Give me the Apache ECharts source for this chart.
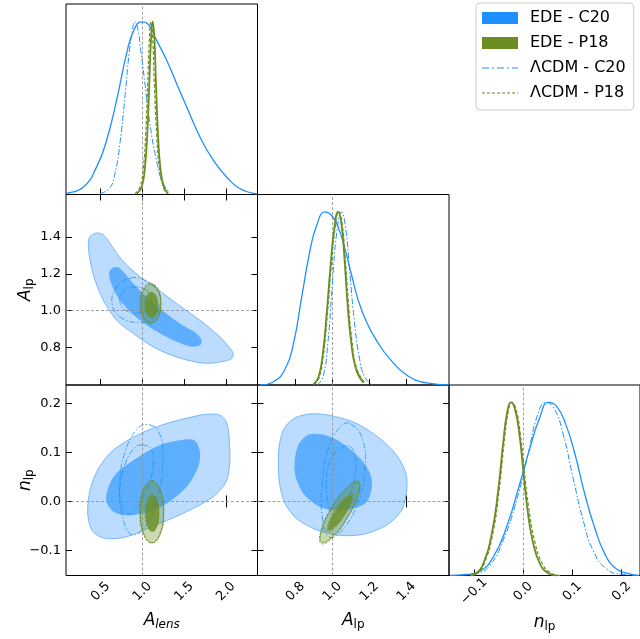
<!DOCTYPE html>
<html>
<head>
<meta charset="utf-8">
<script src="https://cdn.jsdelivr.net/npm/echarts@6/dist/echarts.min.js"></script>
<style>
html,body{margin:0;padding:0;background:#fff}
#main{width:640px;height:639px}
</style>
</head>
<body>
<div id="main"></div>
<script>
// tick values
var alensTicks = [0.5, 1.0, 1.5, 2.0];
var alpTicks = [0.8, 1.0, 1.2, 1.4];
var nlpTicks = [-0.1, 0.0, 0.1, 0.2];

// 1D marginals [value, relative density]
var alensEdeC20 = [[0.09,0.008],[0.29,0.042],[0.45,0.158],[0.57,0.312],[0.69,0.543],[0.81,0.813],[0.89,0.94],[0.99,0.997],[1.07,0.983],[1.17,0.890],[1.29,0.775],[1.41,0.640],[1.53,0.505],[1.69,0.331],[1.85,0.197],[2.01,0.100],[2.17,0.033],[2.37,0.004]];
var alensLcdmC20 = [[0.49,0.004],[0.61,0.039],[0.67,0.119],[0.73,0.293],[0.79,0.563],[0.84,0.813],[0.88,0.948],[0.907,0.996],[0.94,0.967],[0.98,0.832],[1.03,0.640],[1.09,0.408],[1.16,0.216],[1.24,0.071],[1.33,0.008]];
var alensEdeP18 = [[0.93,0.004],[0.99,0.042],[1.03,0.158],[1.058,0.351],[1.082,0.640],[1.102,0.890],[1.122,1.0],[1.142,0.909],[1.162,0.640],[1.186,0.351],[1.214,0.158],[1.258,0.042],[1.31,0.004]];
var alensLcdmP18 = [[0.91,0.004],[0.97,0.042],[1.011,0.158],[1.039,0.351],[1.063,0.640],[1.082,0.890],[1.102,0.996],[1.122,0.909],[1.142,0.640],[1.17,0.351],[1.202,0.158],[1.25,0.042],[1.30,0.004]];

var alpEdeC20 = [[0.609,0],[0.681,0.019],[0.744,0.091],[0.789,0.236],[0.834,0.506],[0.879,0.776],[0.915,0.921],[0.960,1.0],[0.996,0.979],[1.032,0.911],[1.068,0.786],[1.105,0.631],[1.141,0.486],[1.186,0.361],[1.240,0.255],[1.312,0.149],[1.402,0.058],[1.510,0.012],[1.63,0]];
var alpLcdmC20 = [[0.915,0],[0.948,0.042],[0.975,0.236],[1.0,0.583],[1.023,0.873],[1.050,0.998],[1.070,0.921],[1.092,0.680],[1.117,0.390],[1.146,0.158],[1.177,0.042],[1.218,0]];
var alpEdeP18 = [[0.897,0.004],[0.924,0.042],[0.948,0.178],[0.969,0.409],[0.991,0.699],[1.009,0.892],[1.031,1.0],[1.049,0.930],[1.065,0.737],[1.081,0.486],[1.101,0.255],[1.128,0.091],[1.168,0.014]];
var alpLcdmP18 = [[0.90,0.004],[0.928,0.042],[0.952,0.178],[0.973,0.409],[0.995,0.699],[1.013,0.892],[1.035,1.0],[1.053,0.930],[1.069,0.737],[1.086,0.486],[1.106,0.255],[1.133,0.091],[1.175,0.014]];

var nlpEdeC20 = [[-0.149,0],[-0.115,0.006],[-0.088,0.025],[-0.061,0.106],[-0.034,0.279],[-0.007,0.53],[0.0135,0.735],[0.034,0.915],[0.051,1.0],[0.068,0.977],[0.086,0.877],[0.105,0.703],[0.125,0.472],[0.145,0.279],[0.166,0.125],[0.189,0.039],[0.216,0.010],[0.236,0]];
var nlpLcdmC20 = [[-0.149,0],[-0.12,0.003],[-0.095,0.012],[-0.068,0.058],[-0.041,0.202],[-0.0135,0.434],[0.010,0.703],[0.030,0.934],[0.046,1.0],[0.063,0.963],[0.081,0.819],[0.101,0.568],[0.122,0.318],[0.142,0.145],[0.169,0.039],[0.203,0.006],[0.236,0]];
var nlpEdeP18 = [[-0.108,0],[-0.095,0.013],[-0.081,0.071],[-0.064,0.241],[-0.051,0.491],[-0.041,0.761],[-0.032,0.954],[-0.025,1.0],[-0.017,0.963],[-0.008,0.819],[0.0,0.607],[0.008,0.395],[0.019,0.202],[0.034,0.067],[0.051,0.013],[0.068,0]];
var nlpLcdmP18 = [[-0.106,0],[-0.093,0.013],[-0.079,0.071],[-0.062,0.241],[-0.049,0.491],[-0.039,0.761],[-0.030,0.954],[-0.023,1.0],[-0.015,0.963],[-0.006,0.819],[0.002,0.607],[0.011,0.395],[0.023,0.202],[0.039,0.067],[0.057,0.013],[0.075,0]];

// 2D contours, A_lens vs A_lp
var alensAlpEdeC20Outer = [[0.452,1.422],[0.532,1.411],[0.612,1.365],[0.692,1.311],[0.811,1.247],[0.971,1.184],[1.170,1.120],[1.409,1.038],[1.689,0.947],[1.928,0.856],[2.068,0.784],[2.088,0.756],[2.048,0.733],[1.848,0.715],[1.689,0.716],[1.409,0.747],[1.130,0.802],[0.891,0.875],[0.691,0.947],[0.532,1.056],[0.432,1.165],[0.372,1.275],[0.352,1.365],[0.372,1.402]];
var alensAlpEdeC20Inner = [[0.652,1.235],[0.711,1.235],[0.771,1.211],[0.891,1.147],[1.050,1.075],[1.210,1.011],[1.449,0.929],[1.649,0.875],[1.709,0.838],[1.689,0.811],[1.569,0.805],[1.290,0.856],[0.971,0.947],[0.731,1.056],[0.612,1.165],[0.604,1.211]];
var alensAlpLcdmC20Outer = [[0.85,1.176],[1.05,1.16],[1.19,1.10],[1.21,1.04],[1.12,0.96],[0.95,0.936],[0.75,0.96],[0.64,1.03],[0.68,1.12]];
var alensAlpLcdmC20Inner = [[0.88,1.127],[1.03,1.115],[1.11,1.07],[1.06,1.0],[0.95,0.985],[0.80,1.0],[0.73,1.05],[0.77,1.105]];
var alensAlpEdeP18Outer = [[1.10,1.143],[1.185,1.112],[1.221,1.037],[1.185,0.962],[1.10,0.931],[1.015,0.962],[0.982,1.037],[1.015,1.112]];
var alensAlpEdeP18Inner = [[1.108,1.099],[1.163,1.079],[1.186,1.031],[1.163,0.983],[1.108,0.963],[1.053,0.983],[1.030,1.031],[1.053,1.079]];
var alensAlpLcdmP18Outer = [[1.095,1.15],[1.183,1.118],[1.22,1.04],[1.183,0.962],[1.095,0.93],[1.007,0.962],[0.97,1.04],[1.007,1.118]];
var alensAlpLcdmP18Inner = [[1.10,1.10],[1.16,1.08],[1.18,1.035],[1.16,0.99],[1.10,0.97],[1.04,0.99],[1.02,1.035],[1.04,1.08]];

// 2D contours, A_lens vs n_lp
var alensNlpEdeC20Outer = [[0.344,-0.024],[0.392,-0.058],[0.492,-0.072],[0.612,-0.076],[0.811,-0.072],[1.090,-0.053],[1.489,-0.024],[1.848,0.0095],[2.000,0.040],[2.045,0.077],[2.040,0.125],[2.010,0.160],[1.930,0.176],[1.800,0.178],[1.689,0.176],[1.290,0.159],[0.971,0.138],[0.652,0.105],[0.472,0.067],[0.372,0.023]];
var alensNlpEdeC20Inner = [[0.564,0.006],[0.632,-0.018],[0.771,-0.028],[1.011,-0.024],[1.290,-0.004],[1.529,0.030],[1.669,0.071],[1.689,0.101],[1.629,0.124],[1.489,0.126],[1.210,0.115],[0.891,0.084],[0.652,0.050]];
var alensNlpLcdmC20Outer = [[1.09,0.156],[1.20,0.14],[1.245,0.10],[1.20,0.02],[1.06,-0.045],[0.88,-0.068],[0.76,-0.03],[0.731,0.04],[0.79,0.10],[0.95,0.15]];
var alensNlpLcdmC20Inner = [[0.99,0.115],[1.09,0.11],[1.13,0.085],[1.07,0.03],[0.90,-0.02],[0.81,-0.025],[0.74,0.0],[0.73,0.03],[0.80,0.08],[0.92,0.112]];
var alensNlpEdeP18Outer = [[1.115,0.040],[1.214,0.022],[1.255,-0.022],[1.214,-0.066],[1.115,-0.084],[1.016,-0.066],[0.975,-0.022],[1.016,0.022]];
var alensNlpEdeP18Inner = [[1.12,0.013],[1.177,0.002],[1.20,-0.025],[1.177,-0.051],[1.12,-0.062],[1.063,-0.051],[1.04,-0.025],[1.063,0.002]];
var alensNlpLcdmP18Outer = [[1.11,0.043],[1.21,0.025],[1.25,-0.02],[1.21,-0.065],[1.11,-0.085],[1.01,-0.065],[0.97,-0.02],[1.01,0.025]];
var alensNlpLcdmP18Inner = [[1.115,0.015],[1.17,0.005],[1.195,-0.022],[1.17,-0.05],[1.115,-0.06],[1.06,-0.05],[1.035,-0.022],[1.06,0.005]];

// 2D contours, A_lp vs n_lp
var alpNlpEdeC20Outer = [[0.708,0.077],[0.714,0.118],[0.744,0.152],[0.807,0.172],[0.897,0.179],[1.005,0.174],[1.132,0.159],[1.258,0.128],[1.348,0.094],[1.398,0.057],[1.402,0.023],[1.375,-0.018],[1.294,-0.048],[1.168,-0.067],[1.041,-0.069],[0.915,-0.058],[0.807,-0.035],[0.744,-0.004],[0.714,0.037]];
var alpNlpEdeC20Inner = [[0.795,0.077],[0.816,0.115],[0.870,0.136],[0.942,0.137],[1.041,0.122],[1.150,0.088],[1.204,0.057],[1.214,0.030],[1.186,-0.001],[1.114,-0.014],[1.005,-0.018],[0.915,-0.0075],[0.843,0.016],[0.804,0.047]];
var alpNlpLcdmC20Outer = [[1.10,0.158],[1.16,0.13],[1.177,0.07],[1.14,0.0],[1.05,-0.06],[0.98,-0.072],[0.945,-0.03],[0.944,0.03],[0.98,0.11],[1.05,0.155]];
var alpNlpLcdmC20Inner = [[1.095,0.112],[1.12,0.095],[1.125,0.06],[1.09,0.01],[1.03,-0.022],[1.0,-0.025],[0.975,0.0],[0.968,0.045],[0.99,0.085],[1.05,0.11]];
var alpNlpEdeP18Outer = [[1.139,0.039],[1.139,0.014],[1.083,-0.031],[1.003,-0.071],[0.942,-0.083],[0.942,-0.058],[1.0,-0.0125],[1.081,0.027]];
var alpNlpEdeP18Inner = [[1.105,0.013],[1.102,-0.002],[1.064,-0.029],[1.013,-0.052],[0.978,-0.059],[0.982,-0.044],[1.019,-0.017],[1.070,0.006]];
var alpNlpLcdmP18Outer = [[1.142,0.042],[1.143,0.016],[1.086,-0.030],[1.004,-0.073],[0.940,-0.086],[0.938,-0.060],[0.998,-0.011],[1.082,0.030]];
var alpNlpLcdmP18Inner = [[1.108,0.015],[1.105,0.000],[1.066,-0.028],[1.012,-0.054],[0.975,-0.061],[0.979,-0.045],[1.018,-0.015],[1.072,0.008]];

var blue = '#1E90FF', green = '#6B8E23';
var font = 'DejaVu Sans';
var alensRange = [0.0844, 2.378], alpRange = [0.595, 1.631], nlpRange = [-0.151, 0.2375];

function fmt(v) {
	var s = Math.abs(v).toFixed(1);
	return v < -1e-9 ? '\u2212' + s : s;
}

var nameRich = {
	i: {fontStyle: 'italic', fontSize: 17, fontFamily: font, color: '#000', lineHeight: 20, verticalAlign: 'middle'},
	s: {fontStyle: 'italic', fontSize: 12, fontFamily: font, color: '#000', lineHeight: 20, verticalAlign: 'bottom'},
	r: {fontSize: 12, fontFamily: font, color: '#000', lineHeight: 20, verticalAlign: 'bottom'}
};

function axis(g, range, ticks, pos, labels, name, extra) {
	var ax = {
		type: 'value', gridIndex: g, min: range[0], max: range[1], position: pos,
		axisLine: {show: false}, splitLine: {show: false},
		axisTick: {show: !!ticks, inside: true, length: 6, lineStyle: {color: '#000', width: 1}, customValues: ticks || []},
		axisLabel: {show: labels, customValues: ticks || [], formatter: fmt, fontSize: 13, fontFamily: font, color: '#000', margin: 5}
	};
	if (name) {
		ax.name = name;
		ax.nameLocation = 'middle';
		ax.nameMoveOverlap = false;
		ax.nameTextStyle = {rich: nameRich};
	}
	if (extra) for (var k in extra) ax[k] = extra[k];
	return ax;
}

var xRot = {rotate: 45, align: 'center', verticalAlign: 'middle', margin: 16, fontSize: 13, fontFamily: font, color: '#000', formatter: fmt};

var xAxes = [
	axis(0, alensRange, alensTicks, 'bottom', false),
	axis(1, alensRange, alensTicks, 'bottom', false),
	axis(2, alpRange, alpTicks, 'bottom', false),
	axis(3, alensRange, alensTicks, 'bottom', true, '{i|A}{s|lens}', {nameGap: 35}),
	axis(4, alpRange, alpTicks, 'bottom', true, '{i|A}{r|lp}', {nameGap: 35}),
	axis(5, nlpRange, nlpTicks, 'bottom', true, '{i|n}{r|lp}', {nameGap: 37}),
	axis(1, alensRange, alensTicks, 'top', false),
	axis(3, alensRange, alensTicks, 'top', false),
	axis(4, alpRange, alpTicks, 'top', false)
];
[3, 4, 5].forEach(function (i) {
	var t = xAxes[i].axisLabel.customValues;
	xAxes[i].axisLabel = Object.assign({}, xRot, {customValues: t});
});

var yAxes = [
	axis(0, [0, 1.1], null, 'left', false),
	axis(1, alpRange, alpTicks, 'left', true, '{i|A}{r|lp}', {nameGap: 30, nameRotate: 90}),
	axis(2, [0, 1.1], null, 'left', false),
	axis(3, nlpRange, nlpTicks, 'left', true, '{i|n}{r|lp}', {nameGap: 30, nameRotate: 90}),
	axis(4, nlpRange, nlpTicks, 'left', false),
	axis(5, [0, 1.1], null, 'left', false),
	axis(1, alpRange, alpTicks, 'right', false),
	axis(3, nlpRange, nlpTicks, 'right', false),
	axis(4, nlpRange, nlpTicks, 'right', false)
];
[0, 2, 5].forEach(function (i) { yAxes[i].axisTick.show = false; yAxes[i].axisLabel.show = false; });

var gridPos = [[66, 4], [66, 194.5], [257.5, 194.5], [66, 385], [257.5, 385], [449, 385]];
var grids = gridPos.map(function (p) {
	return {left: p[0], top: p[1], width: 191.5, height: 190.5, show: true, borderColor: '#000', borderWidth: 1, backgroundColor: 'transparent'};
});

var dashDot = [6, 2, 1.5, 2];
var dashed = [3.5, 2];

function curve(name, data, g, color, width, dash, z) {
	return {
		type: 'line', name: name, xAxisIndex: g, yAxisIndex: g, data: data,
		symbol: 'none', showSymbol: false, smooth: 0.5,
		lineStyle: {color: color, width: width, type: dash}, itemStyle: {color: color},
		z: z, silent: true
	};
}

function region(name, pts, g, st, z) {
	return {
		type: 'custom', name: name, xAxisIndex: g, yAxisIndex: g, data: pts, z: z, silent: true,
		itemStyle: {color: st.color},
		renderItem: function (params, api) {
			if (params.dataIndex !== 0) return null;
			var p = pts.map(function (d) { return api.coord(d); });
			return {
				type: 'polygon',
				shape: {points: p, smooth: st.smooth || 0.45},
				style: {fill: st.fill || 'none', stroke: st.stroke || 'none', lineWidth: st.width || 1, lineDash: st.dash || null}
			};
		}
	};
}

function refLine(g, marks) {
	return {
		type: 'line', xAxisIndex: g, yAxisIndex: g, data: [], silent: true, z: 20,
		markLine: {
			silent: true, symbol: 'none', animation: false, label: {show: false},
			lineStyle: {color: '#8a8a8a', width: 0.8, type: [3, 2]},
			data: marks
		}
	};
}

var blueOuter = {color: blue, fill: '#bcdcff', stroke: '#5aaaff', width: 0.8, smooth: 0.3};
var blueInner = {color: blue, fill: '#5eaefe', smooth: 0.3};
var blueLine = {color: blue, stroke: blue, width: 0.8, dash: dashDot};
var greenOuter = {color: green, fill: 'rgba(107,142,35,0.35)', stroke: green, width: 0.8};
var greenInner = {color: green, fill: 'rgba(107,142,35,0.8)'};
var greenLine = {color: green, stroke: green, width: 0.8, dash: [2.5, 1.5]};

var series = [
	// 1D marginals
	curve('EDE - C20', alensEdeC20, 0, blue, 1.3, 'solid', 5),
	curve('ΛCDM - C20', alensLcdmC20, 0, blue, 1, dashDot, 6),
	curve('EDE - P18', alensEdeP18, 0, green, 1.8, 'solid', 7),
	curve('ΛCDM - P18', alensLcdmP18, 0, green, 1.2, dashed, 8),
	curve('EDE - C20', alpEdeC20, 2, blue, 1.3, 'solid', 5),
	curve('ΛCDM - C20', alpLcdmC20, 2, blue, 1, dashDot, 6),
	curve('EDE - P18', alpEdeP18, 2, green, 1.8, 'solid', 7),
	curve('ΛCDM - P18', alpLcdmP18, 2, green, 1.2, dashed, 8),
	curve('EDE - C20', nlpEdeC20, 5, blue, 1.3, 'solid', 5),
	curve('ΛCDM - C20', nlpLcdmC20, 5, blue, 1, dashDot, 6),
	curve('EDE - P18', nlpEdeP18, 5, green, 1.8, 'solid', 7),
	curve('ΛCDM - P18', nlpLcdmP18, 5, green, 1.2, dashed, 8),
	// A_lens vs A_lp
	region('EDE - C20', alensAlpEdeC20Outer, 1, blueOuter, 2),
	region('EDE - C20', alensAlpEdeC20Inner, 1, blueInner, 3),
	region('ΛCDM - C20', alensAlpLcdmC20Outer, 1, blueLine, 4),
	region('ΛCDM - C20', alensAlpLcdmC20Inner, 1, blueLine, 4),
	region('EDE - P18', alensAlpEdeP18Outer, 1, greenOuter, 5),
	region('EDE - P18', alensAlpEdeP18Inner, 1, greenInner, 6),
	region('ΛCDM - P18', alensAlpLcdmP18Outer, 1, greenLine, 7),
	region('ΛCDM - P18', alensAlpLcdmP18Inner, 1, greenLine, 7),
	// A_lens vs n_lp
	region('EDE - C20', alensNlpEdeC20Outer, 3, blueOuter, 2),
	region('EDE - C20', alensNlpEdeC20Inner, 3, blueInner, 3),
	region('ΛCDM - C20', alensNlpLcdmC20Outer, 3, blueLine, 4),
	region('ΛCDM - C20', alensNlpLcdmC20Inner, 3, blueLine, 4),
	region('EDE - P18', alensNlpEdeP18Outer, 3, greenOuter, 5),
	region('EDE - P18', alensNlpEdeP18Inner, 3, greenInner, 6),
	region('ΛCDM - P18', alensNlpLcdmP18Outer, 3, greenLine, 7),
	region('ΛCDM - P18', alensNlpLcdmP18Inner, 3, greenLine, 7),
	// A_lp vs n_lp
	region('EDE - C20', alpNlpEdeC20Outer, 4, blueOuter, 2),
	region('EDE - C20', alpNlpEdeC20Inner, 4, blueInner, 3),
	region('ΛCDM - C20', alpNlpLcdmC20Outer, 4, blueLine, 4),
	region('ΛCDM - C20', alpNlpLcdmC20Inner, 4, blueLine, 4),
	region('EDE - P18', alpNlpEdeP18Outer, 4, greenOuter, 5),
	region('EDE - P18', alpNlpEdeP18Inner, 4, greenInner, 6),
	region('ΛCDM - P18', alpNlpLcdmP18Outer, 4, greenLine, 7),
	region('ΛCDM - P18', alpNlpLcdmP18Inner, 4, greenLine, 7),
	// reference lines
	refLine(0, [{xAxis: 1.0}]),
	refLine(1, [{xAxis: 1.0}, {yAxis: 1.0}]),
	refLine(2, [{xAxis: 1.0}]),
	refLine(3, [{xAxis: 1.0}, {yAxis: 0.0}]),
	refLine(4, [{xAxis: 1.0}, {yAxis: 0.0}]),
	refLine(5, [{xAxis: 0.0}])
];

var chart = echarts.init(document.getElementById('main'), null, {renderer: 'canvas'});
chart.setOption({
	animation: false,
	backgroundColor: '#fff',
	grid: grids,
	xAxis: xAxes,
	yAxis: yAxes,
	legend: {
		orient: 'vertical', left: 476, top: 3,
		itemWidth: 36, itemHeight: 12, itemGap: 7,
		padding: [6, 8, 8, 6],
		borderColor: '#cccccc', borderWidth: 1, borderRadius: 4,
		selectedMode: false,
		textStyle: {fontSize: 16, fontFamily: font, color: '#000', lineHeight: 18, padding: [0, 0, 0, 7]},
		data: [
			{name: 'EDE - C20', icon: 'rect', itemStyle: {color: blue, borderWidth: 0}},
			{name: 'EDE - P18', icon: 'rect', itemStyle: {color: green, borderWidth: 0}},
			{name: 'ΛCDM - C20', icon: 'path://M0,0h7v1.2h-7z M10,0h2v1.2h-2z M15,0h7v1.2h-7z M25,0h2v1.2h-2z M30,0h6v1.2h-6z', itemStyle: {color: blue, borderWidth: 0}},
			{name: 'ΛCDM - P18', icon: 'path://M0,0h3v1.2h-3z M5,0h3v1.2h-3z M10,0h3v1.2h-3z M15,0h3v1.2h-3z M20,0h3v1.2h-3z M25,0h3v1.2h-3z M30,0h3v1.2h-3z M35,0h1v1.2h-1z', itemStyle: {color: green, borderWidth: 0}}
		]
	},
	series: series
});
</script>
</body>
</html>
